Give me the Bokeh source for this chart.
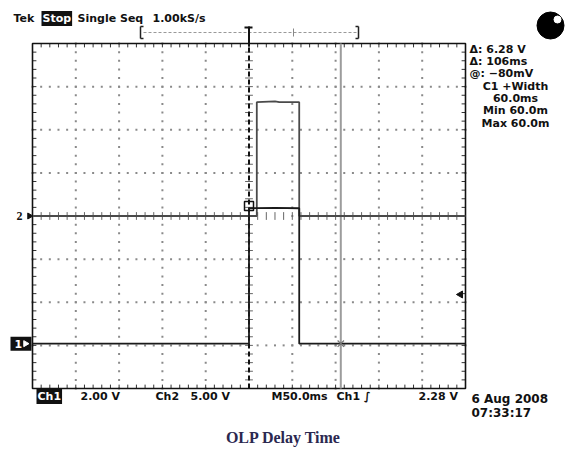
import numpy as np
from bokeh.plotting import figure
from bokeh.models import Label
from bokeh.embed import file_html
from bokeh.resources import INLINE

# ---------------- data (scope settings and traces) ----------------
time_per_div_ms = 50.0
ch1_volts_per_div = 2.0
ch2_volts_per_div = 5.0
ch1_position_div = -2.96
ch2_position_div = 0.0

ch1_time_ms = [-250, -120, 0, 0, 30, 58, 58, 150, 250]
ch1_volts = [0.0, 0.0, 0.0, 6.28, 6.30, 6.28, 0.0, 0.0, 0.0]

ch2_time_ms = [-250, 0, 9, 9, 30, 35, 58, 58, 250]
ch2_volts = [0.0, 0.0, 0.0, 13.2, 13.3, 13.2, 13.2, 0.0, 0.0]

cursor_times_ms = [0, 106]
trigger_level_v = 2.28

readout_right = ["\u0394: 6.28 V", "\u0394: 106ms", "@: \u221280mV"]
readout_meas = ["C1 +Width", "60.0ms", "Min 60.0m", "Max 60.0m"]

# ---------------- geometry ----------------
W, H = 565, 450
GL, GR, GT, GB = 32.0, 465.0, 43.0, 388.0
pxdx = (GR - GL) / 10.0
pxdy = (GB - GT) / 8.0
x0 = -5 - GL / pxdx
x1 = -5 + (W - GL) / pxdx
y_top = 4 + GT / pxdy
y_bot = -4 - (H - GB) / pxdy


def px2x(px):
    return -5 + (px - GL) / pxdx


def py2y(py):
    return 4 - (py - GT) / pxdy


p = figure(width=W, height=H, x_range=(x0, x1), y_range=(y_bot, y_top),
           output_backend="svg", toolbar_location=None,
           x_axis_type=None, y_axis_type=None, min_border=0)
p.xgrid.visible = False
p.ygrid.visible = False
p.outline_line_color = None
p.background_fill_color = "white"
p.border_fill_color = "white"

# ---------------- graticule ----------------
minor_x = np.round(np.arange(-5, 5.001, 0.2), 3)
minor_y = np.round(np.arange(-4, 4.001, 0.2), 3)
dx, dy = [], []
for gx in range(-4, 5):
    if gx == 0:
        continue
    for yy in minor_y:
        dx.append(gx); dy.append(yy)
for gy in range(-3, 4):
    if gy == 0:
        continue
    for xx in minor_x:
        dx.append(xx); dy.append(gy)
p.scatter(dx, dy, marker="square", size=2, color="#8a8a8a", line_color=None)

tk = 0.09
# edge ticks
p.segment(x0=list(minor_x), y0=[4] * len(minor_x), x1=list(minor_x), y1=[4 - tk] * len(minor_x), line_color="#333", line_width=1)
p.segment(x0=list(minor_x), y0=[-4] * len(minor_x), x1=list(minor_x), y1=[-4 + tk] * len(minor_x), line_color="#333", line_width=1)
p.segment(x0=[-5] * len(minor_y), y0=list(minor_y), x1=[-5 + tk] * len(minor_y), y1=list(minor_y), line_color="#333", line_width=1)
p.segment(x0=[5] * len(minor_y), y0=list(minor_y), x1=[5 - tk] * len(minor_y), y1=list(minor_y), line_color="#333", line_width=1)
# center cross ticks
p.segment(x0=list(minor_x), y0=[-tk] * len(minor_x), x1=list(minor_x), y1=[tk] * len(minor_x), line_color="#666", line_width=1)
p.segment(x0=[-tk] * len(minor_y), y0=list(minor_y), x1=[tk] * len(minor_y), y1=list(minor_y), line_color="#666", line_width=1)

p.quad(left=-5, right=5, bottom=-4, top=4, fill_color=None, line_color="#111", line_width=1.6)

# ---------------- cursors ----------------
c1x = cursor_times_ms[0] / time_per_div_ms
c2x = cursor_times_ms[1] / time_per_div_ms
p.segment(x0=c2x, y0=-4, x1=c2x, y1=4, line_color="#9c9c9c", line_width=2)
p.segment(x0=c1x, y0=-4, x1=c1x, y1=4, line_color="#111", line_width=2, line_dash="5 3")

# ---------------- traces ----------------
t1 = np.array(ch1_time_ms) / time_per_div_ms
y1v = ch1_position_div + np.array(ch1_volts) / ch1_volts_per_div
t2 = np.array(ch2_time_ms) / time_per_div_ms
y2v = ch2_position_div + np.array(ch2_volts) / ch2_volts_per_div
p.line(t2, y2v, line_color="#4a4a4a", line_width=1.8)
p.line(t1, y1v, line_color="#1a1a1a", line_width=1.8)

# cursor markers on waveform
p.scatter([c1x], [ch1_position_div + 6.28 / ch1_volts_per_div + 0.05], marker="square", size=9,
          fill_color=None, line_color="#111", line_width=1.5)
p.scatter([c2x], [ch1_position_div], marker="x", size=9, line_color="#777", line_width=1.2)

# trigger level marker (right)
trig_y = ch1_position_div + trigger_level_v / ch1_volts_per_div
p.scatter([px2x(460)], [trig_y], marker="triangle", angle=np.pi / 2, size=7, color="#111")

# channel ground markers (left)
p.scatter([px2x(29)], [ch2_position_div], marker="triangle", angle=-np.pi / 2, size=6, color="#111")
p.quad(left=px2x(10), right=px2x(31), bottom=ch1_position_div - 7 / pxdy,
       top=ch1_position_div + 7 / pxdy, fill_color="#111", line_color=None)
p.scatter([px2x(25)], [ch1_position_div], marker="triangle", angle=-np.pi / 2, size=6, color="white")

# record bar on top
bar_y = py2y(32)
p.segment(x0=px2x(143), y0=bar_y, x1=px2x(356), y1=bar_y, line_color="#999", line_width=1, line_dash="3 2")
for bx, d in [(140, 3), (358, -3)]:
    p.segment(x0=px2x(bx), y0=py2y(26), x1=px2x(bx), y1=py2y(38), line_color="#222", line_width=1.5)
    p.segment(x0=px2x(bx), y0=py2y(26), x1=px2x(bx + d), y1=py2y(26), line_color="#222", line_width=1.5)
    p.segment(x0=px2x(bx), y0=py2y(38), x1=px2x(bx + d), y1=py2y(38), line_color="#222", line_width=1.5)
p.segment(x0=0, y0=py2y(26), x1=0, y1=py2y(46), line_color="#111", line_width=2)
p.segment(x0=px2x(244), y0=py2y(27), x1=px2x(252), y1=py2y(27), line_color="#111", line_width=2)
p.segment(x0=px2x(293), y0=py2y(28), x1=px2x(293), y1=py2y(36), line_color="#888", line_width=1)

# round icon
p.scatter([px2x(550)], [py2y(25)], marker="circle", size=27, color="black")
p.scatter([px2x(557)], [py2y(19)], marker="circle", size=7, color="white")

# ---------------- texts ----------------
FONT = "DejaVu Sans"


def lab(px, py, text, size=11, color="#111", align="left", bg=None, bold=True, font=FONT, pad=0):
    kw = {}
    if bg is not None:
        kw["background_fill_color"] = bg
        kw["padding"] = pad
    p.add_layout(Label(x=px, y=H - py, x_units="screen", y_units="screen", text=text,
                       text_font=font, text_font_size=f"{size}px",
                       text_font_style="bold" if bold else "normal",
                       text_color=color, text_align=align, text_baseline="middle", **kw))


lab(13, 18, "Tek")
lab(41, 18, "Stop", color="white", bg="#111", pad=1)
lab(77, 18, "Single Seq")
lab(152, 18, "1.00kS/s")

for i, t in enumerate(readout_right):
    lab(469, 49 + 12.2 * i, t)
for i, t in enumerate(readout_meas):
    lab(515, 86 + 12.2 * i, t, align="center")

lab(36, 396, "Ch1", color="white", bg="#111", pad=1)
lab(80, 396, "2.00 V")
lab(155, 396, "Ch2")
lab(190, 396, "5.00 V")
lab(271, 396, "M50.0ms")
lab(336, 396, "Ch1 \u222b")
lab(418, 396, "2.28 V")
lab(471, 398, "6 Aug 2008", size=12)
lab(471, 412, "07:33:17", size=12)

lab(16, 215, "2", size=12, font="Liberation Serif")
lab(14, 343, "1", size=11, color="white")

lab(283, 437, "OLP Delay Time", size=16, color="#2b2850", align="center", font="Liberation Serif")

open("out.html", "w").write(file_html(p, INLINE))
